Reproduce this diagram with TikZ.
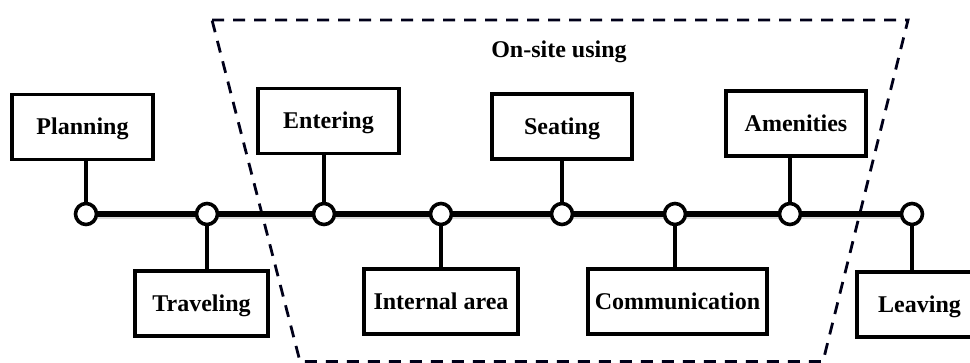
\documentclass[tikz,border=0pt]{standalone}
\usepackage{fontspec}
\setmainfont{Liberation Serif}
\begin{document}
\begin{tikzpicture}[x=1pt,y=-1pt,
  stage/.style={circle,draw,line width=3.6pt,fill=white,minimum size=21pt,inner sep=0pt},
  labelbox/.style={draw,line width=3.6pt,minimum height=65pt,inner sep=0pt,
    font=\bfseries\fontsize{24}{28}\selectfont,text height=16pt,text depth=0pt},
  caption/.style={font=\bfseries\fontsize{24}{28}\selectfont,text height=16pt,text depth=0pt,inner sep=0pt},
  link/.style={line width=3.6pt},
  axisline/.style={line width=5.5pt},
  axisshadow/.style={line width=2.5pt,black!14},
  frame/.style={dash pattern=on 12pt off 9pt,line width=2.8pt,black!90!blue}]
\useasboundingbox (0,0) rectangle (970,363);

% dashed frame around the on-site stages
\draw[frame] (212,20) -- (908,20) -- (823,361.5) -- (300,361.5) -- cycle;
\node[caption] (onsite) at (559,50) {On-site using};

% stages along the journey
\node[stage] (c1) at (86,214) {};
\node[stage] (c2) at (207,214) {};
\node[stage] (c3) at (324,214) {};
\node[stage] (c4) at (441,214) {};
\node[stage] (c5) at (562,214) {};
\node[stage] (c6) at (675,214) {};
\node[stage] (c7) at (790,214) {};
\node[stage] (c8) at (912,214) {};

% timeline with a faint shadow
\foreach \a/\b in {c1/c2,c2/c3,c3/c4,c4/c5,c5/c6,c6/c7,c7/c8}{
  \draw[axisshadow] ([yshift=-4pt]\a.east) -- ([yshift=-4pt]\b.west);
  \draw[axisline] (\a) -- (\b);
}

% labels
\node[labelbox,minimum width=141pt] (planning) at (82.5,127) {Planning};
\node[labelbox,minimum width=141pt] (entering) at (328.5,121) {Entering};
\node[labelbox,minimum width=140pt] (seating) at (562,126.5) {Seating};
\node[labelbox,minimum width=140pt] (amenities) at (796,123.5) {Amenities};
\node[labelbox,minimum width=133pt] (traveling) at (201.5,303.5) {Traveling};
\node[labelbox,minimum width=154pt] (internal) at (441,301.5) {Internal area};
\node[labelbox,minimum width=179pt] (communication) at (677.5,301.5) {Communication};
\node[labelbox,minimum width=125pt] (leaving) at (919.5,304.5) {Leaving};

% stems from stages to labels
\draw[link] (c1) -- (c1 |- planning.south);
\draw[link] (c2) -- (c2 |- traveling.north);
\draw[link] (c3) -- (c3 |- entering.south);
\draw[link] (c4) -- (c4 |- internal.north);
\draw[link] (c5) -- (c5 |- seating.south);
\draw[link] (c6) -- (c6 |- communication.north);
\draw[link] (c7) -- (c7 |- amenities.south);
\draw[link] (c8) -- (c8 |- leaving.north);
\end{tikzpicture}
\end{document}
